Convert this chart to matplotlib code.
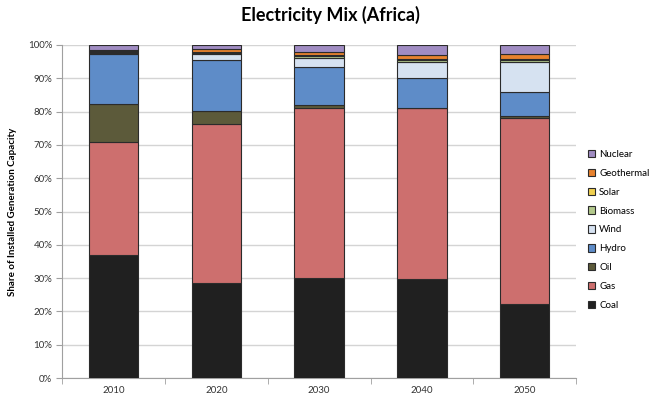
import matplotlib.pyplot as plt
import numpy as np

plt.rcParams['font.family'] = ['Lato', 'DejaVu Sans']

years = ["2010", "2020", "2030", "2040", "2050"]

# share of installed capacity, %
coal = [36.9, 28.4, 29.9, 29.6, 22.1]
gas = [33.9, 47.9, 51.1, 51.4, 56.0]
oil = [11.5, 4.0, 1.0, 0.2, 0.6]
hydro = [15.0, 15.2, 11.5, 9.0, 7.3]
wind = [0.4, 1.8, 2.7, 4.7, 9.0]
biomass = [0.3, 0.3, 0.4, 0.5, 0.4]
solar = [0.1, 0.3, 0.3, 0.4, 0.4]
geothermal = [0.4, 1.0, 1.0, 1.3, 1.4]
nuclear = [1.5, 1.1, 2.1, 2.9, 2.8]

series = [
    ("Coal", coal, "#202020"),
    ("Gas", gas, "#cd6f6e"),
    ("Oil", oil, "#5c5a3a"),
    ("Hydro", hydro, "#5e8cc8"),
    ("Wind", wind, "#d6e2f1"),
    ("Biomass", biomass, "#b3c98c"),
    ("Solar", solar, "#f0d050"),
    ("Geothermal", geothermal, "#e8822e"),
    ("Nuclear", nuclear, "#a08cc2"),
]

fig = plt.figure(figsize=(6.6, 4.0), dpi=100)
ax = fig.add_axes([0.094, 0.055, 0.779, 0.8325])

x = np.arange(len(years))
bottom = np.zeros(len(years))
handles = []
for name, vals, color in series:
    b = ax.bar(x, vals, 0.48, bottom=bottom, color=color, edgecolor="#2b2b2b",
               linewidth=0.8, label=name, zorder=3)
    handles.append(b)
    bottom += np.array(vals)

ax.set_xlim(-0.5, len(years) - 0.5)
ax.set_ylim(0, 100)
ax.set_yticks(np.arange(0, 101, 10))
ax.set_yticklabels([f"{v}%" for v in range(0, 101, 10)])
ax.set_xticks(x)
ax.set_xticklabels(years)
ax.set_xticks(np.arange(-0.5, len(years), 1), minor=True)

ax.grid(axis="y", color="#d4d4d4", linewidth=1.0, zorder=0)
for s in ["top", "right"]:
    ax.spines[s].set_visible(False)
ax.spines["left"].set_color("#a0a0a0")
ax.spines["bottom"].set_color("#a0a0a0")
ax.tick_params(axis="y", labelsize=7, colors="#a0a0a0", labelcolor="#333333",
               length=4, pad=3)
ax.tick_params(axis="x", which="major", length=0, labelsize=7,
               labelcolor="#333333", pad=6)
ax.tick_params(axis="x", which="minor", length=4, colors="#a0a0a0")

ax.set_ylabel("Share of Installed Generation Capacity", fontsize=7,
              fontweight="bold", labelpad=8)
fig.suptitle("Electricity Mix (Africa)", fontsize=13, fontweight="bold",
             x=0.5, y=0.985)

leg = ax.legend(handles[::-1], [s[0] for s in series][::-1],
                loc="center left", bbox_to_anchor=(1.005, 0.445),
                frameon=False, fontsize=7, handlelength=0.8,
                handleheight=0.8, handletextpad=0.4, labelspacing=1.0)

fig.savefig("out.png", dpi=100)
